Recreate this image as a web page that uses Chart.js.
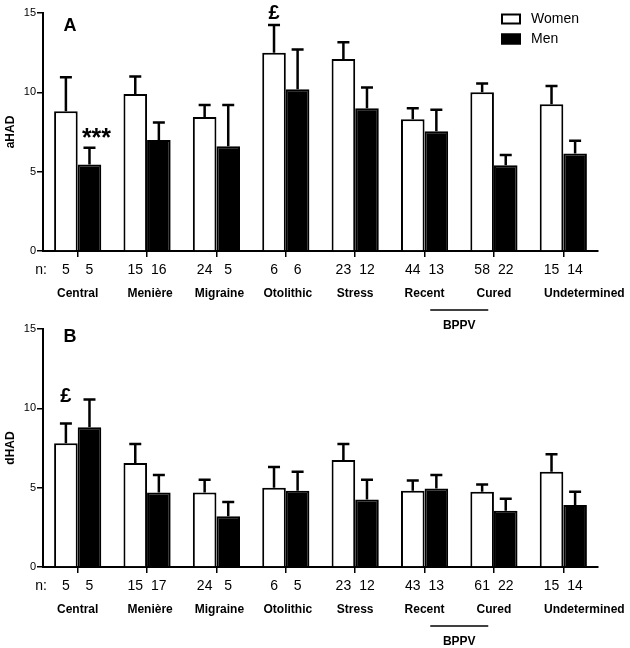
<!DOCTYPE html>
<html lang="en">
<head>
    <meta charset="UTF-8">
    <title>aHAD / dHAD by diagnosis</title>
    <script src="https://cdn.jsdelivr.net/npm/chart.js"></script>
    <style>
        body { margin: 0; background: #fff; }
        .panel { position: absolute; left: 0; width: 630px; }
        #panelA { top: 0; height: 335px; }
        #panelB { top: 316px; height: 332px; }
    </style>
</head>
<body>
    <div class="panel" id="panelA"><canvas id="chartA"></canvas></div>
    <div class="panel" id="panelB"><canvas id="chartB"></canvas></div>

    <script>
        // categories
        var categories = ['Central', 'Menière', 'Migraine', 'Otolithic', 'Stress', 'Recent', 'Cured', 'Undetermined'];
        var yTicks = [0, 5, 10, 15];

        // panel A - aHAD (mean and mean + SEM)
        var aWomen    = [8.8, 9.9, 8.45, 12.5, 12.1, 8.3, 10.0, 9.25];
        var aWomenErr = [10.95, 11.0, 9.2, 14.25, 13.15, 9.0, 10.55, 10.4];
        var aMen      = [5.45, 7.0, 6.6, 10.2, 9.0, 7.55, 5.4, 6.15];
        var aMenErr   = [6.5, 8.1, 9.2, 12.7, 10.3, 8.9, 6.05, 6.95];
        var aWomenN   = [5, 15, 24, 6, 23, 44, 58, 15];
        var aMenN     = [5, 16, 5, 6, 12, 13, 22, 14];

        // panel B - dHAD
        var bWomen    = [7.8, 6.55, 4.7, 5.0, 6.75, 4.8, 4.75, 6.0];
        var bWomenErr = [9.05, 7.75, 5.5, 6.3, 7.75, 5.45, 5.2, 7.1];
        var bMen      = [8.8, 4.7, 3.2, 4.8, 4.25, 4.95, 3.55, 3.9];
        var bMenErr   = [10.55, 5.8, 4.1, 6.0, 5.5, 5.8, 4.3, 4.75];
        var bWomenN   = [5, 15, 24, 6, 23, 43, 61, 15];
        var bMenN     = [5, 17, 5, 5, 12, 13, 22, 14];

        // significance marks: category, dataset, value level
        var annotA = [
            { cat: 0, ds: 1, value: 7.5, text: '***' },
            { cat: 3, ds: 0, value: 15.1, text: '£' }
        ];
        var annotB = [
            { cat: 0, ds: 0, value: 10.85, text: '£' }
        ];

        var FONT = "Arial, 'Liberation Sans', sans-serif";
        Chart.defaults.font.family = FONT;
        Chart.defaults.color = '#000';

        // error bars, n row, labels, BPPV bracket, legend, letters
        var extrasPlugin = {
            id: 'extras',
            afterDatasetsDraw: function(chart, args, o) {
                var ctx = chart.ctx, y = chart.scales.y;
                ctx.save();
                ctx.strokeStyle = '#000';
                ctx.lineWidth = 2.5;
                o.errors.forEach(function(errs, d) {
                    chart.getDatasetMeta(d).data.forEach(function(bar, i) {
                        var top = y.getPixelForValue(errs[i]);
                        ctx.beginPath();
                        ctx.moveTo(bar.x, bar.y);
                        ctx.lineTo(bar.x, top);
                        ctx.moveTo(bar.x - 6, top);
                        ctx.lineTo(bar.x + 6, top);
                        ctx.stroke();
                    });
                });
                ctx.restore();
            },
            afterDraw: function(chart, args, o) {
                var ctx = chart.ctx, x = chart.scales.x, y = chart.scales.y;
                var base = chart.chartArea.bottom;
                ctx.save();
                ctx.fillStyle = '#000';
                ctx.textBaseline = 'middle';

                // n: row
                ctx.font = '14px ' + FONT;
                ctx.textAlign = 'right';
                ctx.fillText('n:', 47, base + 19);
                ctx.textAlign = 'center';
                o.counts.forEach(function(ns, d) {
                    chart.getDatasetMeta(d).data.forEach(function(bar, i) {
                        ctx.fillText(String(ns[i]), bar.x, base + 19);
                    });
                });

                // category names
                ctx.font = 'bold 12px ' + FONT;
                chart.data.labels.forEach(function(lab, i) {
                    ctx.fillText(lab, x.getPixelForValue(i) + (o.labelShift[i] || 0), base + 43);
                });

                // BPPV bracket under Recent / Cured
                var mid = (x.getPixelForValue(5) + x.getPixelForValue(6)) / 2;
                ctx.strokeStyle = '#000';
                ctx.lineWidth = 1.5;
                ctx.beginPath();
                ctx.moveTo(mid - 29, base + 59);
                ctx.lineTo(mid + 29, base + 59);
                ctx.stroke();
                ctx.fillText('BPPV', mid, base + 75);

                // significance marks
                o.annot.forEach(function(a) {
                    var bar = chart.getDatasetMeta(a.ds).data[a.cat];
                    var py = y.getPixelForValue(a.value);
                    ctx.textBaseline = 'alphabetic';
                    if (a.text === '***') {
                        ctx.font = 'bold 25px ' + FONT;
                        ctx.fillText(a.text, bar.x + 7, py + 25 * 0.57);
                    } else {
                        ctx.font = 'bold 20px ' + FONT;
                        ctx.fillText(a.text, bar.x, py + 20 * 0.36);
                    }
                });

                // panel letter
                ctx.textBaseline = 'middle';
                ctx.font = 'bold 18px ' + FONT;
                ctx.fillText(o.letter, 70, o.letterY);

                // legend
                if (o.legend) {
                    var ds = chart.data.datasets;
                    ctx.font = '14px ' + FONT;
                    ctx.textAlign = 'left';
                    ds.forEach(function(d, k) {
                        var ty = 19 + k * 20;
                        ctx.fillStyle = d.backgroundColor;
                        ctx.fillRect(501, ty - 5.5, 20, 11);
                        ctx.strokeStyle = '#000';
                        ctx.lineWidth = 2;
                        ctx.strokeRect(502, ty - 4.5, 18, 9);
                        ctx.fillStyle = '#000';
                        ctx.fillText(d.label, 531, ty);
                    });
                }
                ctx.restore();
            }
        };

        function drawPanel(canvasId, title, women, men, womenErr, menErr, womenN, menN, annot, letter, letterY, legend, xHeight) {
            var ctx = document.getElementById(canvasId).getContext('2d');
            return new Chart(ctx, {
                type: 'bar',
                data: {
                    labels: categories,
                    datasets: [{
                        label: 'Women',
                        data: women,
                        backgroundColor: '#ffffff',
                        borderColor: '#000000',
                        borderWidth: 2
                    }, {
                        label: 'Men',
                        data: men,
                        backgroundColor: '#000000',
                        borderColor: '#000000',
                        borderWidth: 2
                    }]
                },
                options: {
                    responsive: true,
                    maintainAspectRatio: false,
                    animation: false,
                    layout: { padding: { top: 13, right: 32, bottom: 0, left: 0 } },
                    datasets: { bar: { categoryPercentage: 0.68, barPercentage: 1.0 } },
                    plugins: {
                        legend: { display: false },
                        tooltip: { enabled: false },
                        extras: {
                            errors: [womenErr, menErr],
                            counts: [womenN, menN],
                            annot: annot,
                            letter: letter,
                            letterY: letterY,
                            legend: legend,
                            labelShift: [0, 3, 3, 2, 0, 0, 0, 21]
                        }
                    },
                    scales: {
                        x: {
                            grid: { offset: false, drawOnChartArea: false, drawTicks: true, tickLength: 6, color: '#000', lineWidth: 1.5 },
                            border: { color: '#000', width: 2 },
                            ticks: { display: false },
                            afterFit: function(s) { s.height = xHeight; }
                        },
                        y: {
                            min: 0,
                            max: 15,
                            afterBuildTicks: function(s) { s.ticks = yTicks.map(function(v) { return { value: v }; }); },
                            grid: { drawOnChartArea: false, drawTicks: true, tickLength: 6, color: '#000', lineWidth: 1.5 },
                            border: { color: '#000', width: 2 },
                            ticks: { font: { size: 11 }, color: '#000', padding: 1 },
                            title: { display: true, text: title, font: { size: 12, weight: 'bold' }, color: '#000', padding: { top: 3, bottom: 0 } },
                            afterFit: function(s) { s.width = 43; }
                        }
                    }
                },
                plugins: [extrasPlugin]
            });
        }

        drawPanel('chartA', 'aHAD', aWomen, aMen, aWomenErr, aMenErr, aWomenN, aMenN, annotA, 'A', 26.5, true, 84);
        drawPanel('chartB', 'dHAD', bWomen, bMen, bWomenErr, bMenErr, bWomenN, bMenN, annotB, 'B', 21, false, 81);
    </script>
</body>
</html>
